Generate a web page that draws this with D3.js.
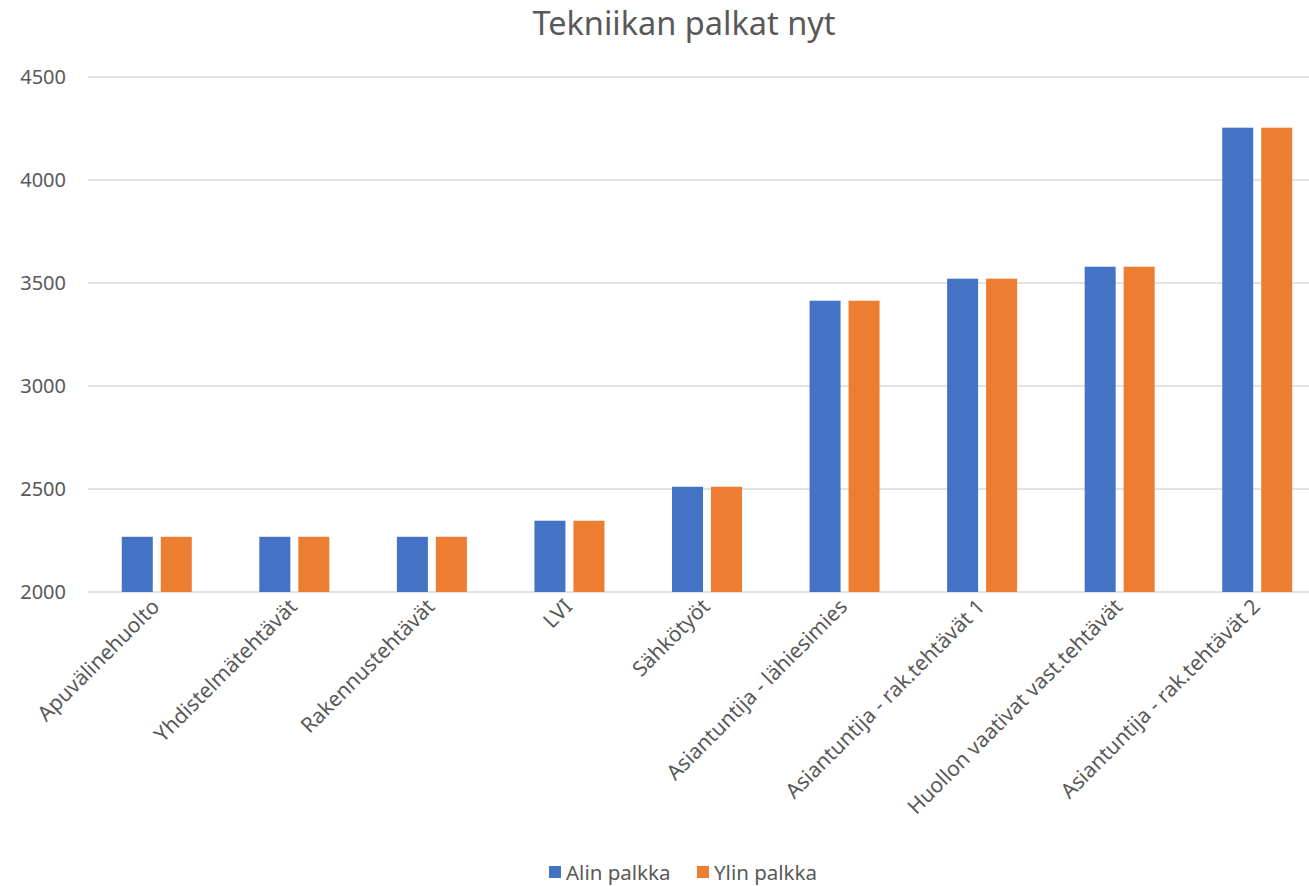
<!DOCTYPE html>
<html lang="fi">
<head>
  <meta charset="UTF-8">
  <title>Tekniikan palkat nyt</title>
  <script src="https://d3js.org/d3.v7.min.js"></script>
  <style>
    body { margin: 0; background: #fff; font-family: "Noto Sans", sans-serif; }
    svg { display: block; }
    .tick-label { font-size: 20px; fill: #595959; }
    .cat-label { font-size: 21px; fill: #595959; }
    .legend-label { font-size: 20.5px; fill: #595959; }
  </style>
</head>
<body>
  <svg id="chart" width="1309" height="886"></svg>
  <script>
    const categories = [
      "Apuvälinehuolto", "Yhdistelmätehtävät", "Rakennustehtävät", "LVI", "Sähkötyöt",
      "Asiantuntija - lähiesimies", "Asiantuntija - rak.tehtävät 1",
      "Huollon vaativat vast.tehtävät", "Asiantuntija - rak.tehtävät 2"
    ];
    const seriesNames = ["Alin palkka", "Ylin palkka"];
    const alinPalkka = [2268, 2268, 2268, 2346, 2511, 3414, 3521, 3579, 4254];
    const ylinPalkka = [2268, 2268, 2268, 2346, 2511, 3414, 3521, 3579, 4254];
    const yTicks = [2000, 2500, 3000, 3500, 4000, 4500];
    const colors = ["#4472C4", "#ED7D31"];

    const svg = d3.select("#chart");
    const plot = { left: 88, right: 1326, top: 77, bottom: 592 };

    const y = d3.scaleLinear().domain([2000, 4500]).range([plot.bottom, plot.top]);
    const x0 = d3.scaleBand().domain(categories).range([plot.left, plot.right]);
    const groupW = 70;
    const x1 = d3.scaleBand().domain(seriesNames)
      .range([x0.bandwidth() / 2 - groupW / 2, x0.bandwidth() / 2 + groupW / 2])
      .paddingInner(0.205);

    // gridlines
    svg.append("g").selectAll("line")
      .data(yTicks)
      .enter().append("line")
      .attr("x1", plot.left).attr("x2", 1309)
      .attr("y1", d => y(d)).attr("y2", d => y(d))
      .attr("stroke", "#D9D9D9").attr("stroke-width", 1.5);

    svg.append("g").selectAll("text")
      .data(yTicks)
      .enter().append("text")
      .attr("class", "tick-label")
      .attr("x", 66).attr("y", d => y(d))
      .attr("dy", "0.35em")
      .attr("text-anchor", "end")
      .text(d => d);

    // bars
    const rows = categories.map((c, i) => ({ cat: c, values: [alinPalkka[i], ylinPalkka[i]] }));
    const groups = svg.append("g").selectAll("g")
      .data(rows)
      .enter().append("g")
      .attr("transform", d => `translate(${x0(d.cat)},0)`);

    groups.selectAll("rect")
      .data(d => d.values.map((v, j) => ({ key: seriesNames[j], v: v, j: j })))
      .enter().append("rect")
      .attr("x", d => x1(d.key))
      .attr("width", x1.bandwidth())
      .attr("y", d => y(d.v))
      .attr("height", d => y(2000) - y(d.v))
      .attr("fill", d => colors[d.j]);

    // category labels
    svg.append("g").selectAll("text")
      .data(categories)
      .enter().append("text")
      .attr("class", "cat-label")
      .attr("text-anchor", "end")
      .attr("transform", d => `translate(${x0(d) + x0.bandwidth() / 2 + 4},${plot.bottom + 16}) rotate(-45)`)
      .text(d => d);

    // title
    svg.append("text")
      .attr("x", 684).attr("y", 35)
      .attr("text-anchor", "middle")
      .style("font-size", "32.5px")
      .style("fill", "#595959")
      .text("Tekniikan palkat nyt");

    // legend
    const legend = svg.append("g");
    const legendX = [549, 697];
    seriesNames.forEach((s, i) => {
      legend.append("rect")
        .attr("x", legendX[i]).attr("y", 866)
        .attr("width", 12).attr("height", 12)
        .attr("fill", colors[i]);
      legend.append("text")
        .attr("class", "legend-label")
        .attr("x", legendX[i] + 17).attr("y", 880)
        .text(s);
    });
  </script>
</body>
</html>
